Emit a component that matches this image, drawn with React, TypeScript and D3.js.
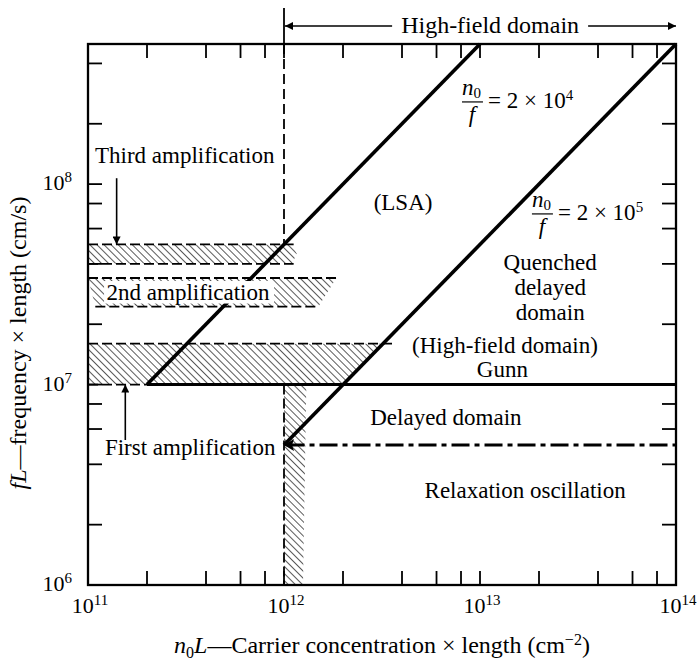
import React from 'react';
import * as d3 from 'd3';

const W = 699;
const H = 664;
const FONT = "'Liberation Serif', 'DejaVu Serif', serif";

// axes
const xDomain: [number, number] = [1e11, 1e14];
const yDomain: [number, number] = [1e6, 5e8];
const xMajorTicks = [1e11, 1e12, 1e13, 1e14];
const xMajorLabels = ['11', '12', '13', '14'];
const yMajorTicks = [1e6, 1e7, 1e8];
const yMajorLabels = ['6', '7', '8'];
const tickMultiples = [2, 4, 6, 8];

// boundary lines [n0L, fL]
const lsaLine = [[2e11, 1e7], [1e13, 5e8]]; // n0/f = 2e4
const quenchLine = [[1e12, 5e6], [1e14, 5e8]]; // n0/f = 2e5
const gunnLine = [[2e11, 1e7], [1e14, 1e7]];
const relaxLine = [[1.03e12, 5e6], [1e14, 5e6]];
const firstBottomDashed = [[1e11, 1e7], [2e11, 1e7]];
const criticalLine = [[1e12, 5e8], [1e12, 5e7]];
const stripeEdge = [[1e12, 1e7], [1e12, 1e6]];

// hatched amplification regions
const thirdBand = [[1e11, 5e7], [1.1e12, 5e7], [1.16e12, 4.5e7], [1.1e12, 4e7], [1e11, 4e7]];
const thirdTop = [[1e11, 5e7], [1.12e12, 5e7]];
const thirdBottom = [[1e11, 4e7], [1.12e12, 4e7]];
const secondBand = [[1e11, 3.4e7], [1.85e12, 3.4e7], [1.5e12, 2.45e7], [1.09e11, 2.45e7]];
const secondTop = [[1e11, 3.4e7], [1.85e12, 3.4e7]];
const secondBottom = [[1.09e11, 2.45e7], [1.5e12, 2.45e7]];
const firstBand = [[1e11, 1.6e7], [3.2e12, 1.6e7], [2e12, 1e7], [1e11, 1e7]];
const firstTop = [[1e11, 1.6e7], [3.7e12, 1.6e7]];
const stripe = [[1e12, 1e7], [1.3e12, 1e7], [1.25e12, 1e6], [1e12, 1e6]];

// region labels [text, n0L, fL]
const regionLabels: [string, number, number][] = [
  ['(LSA)', 4.05e12, 7.4e7],
  ['Quenched', 2.28e13, 3.73e7],
  ['delayed', 2.28e13, 2.8e7],
  ['domain', 2.28e13, 2.1e7],
  ['(High-field domain)', 1.34e13, 1.44e7],
  ['Gunn', 1.3e13, 1.09e7],
  ['Delayed domain', 6.7e12, 6.28e6],
  ['Relaxation oscillation', 1.7e13, 2.72e6],
];
const thirdLabel: [string, number, number] = ['Third amplification', 1.085e11, 1.28e8];
const firstLabel: [string, number, number] = ['First amplification', 1.22e11, 4.46e6];
const secondLabel: [string, number, number] = ['2nd amplification', 3.24e11, 2.64e7];
const thirdArrow = [[1.4e11, 1.07e8], [1.4e11, 5e7]];
const firstArrow = [[1.55e11, 5.29e6], [1.55e11, 1e7]];
const ratioLabels: [string, number, number][] = [
  ['4', 9.1e12, 2.57e8],
  ['5', 2.07e13, 7.1e7],
];

const T = (props: any) => <text {...props} style={{ fontFamily: FONT, ...(props.style || {}) }} />;

export default function App() {
  const left = 88, right = 676, top = 44, bottom = 585;
  const x = d3.scaleLog().domain(xDomain).range([left, right]);
  const y = d3.scaleLog().domain(yDomain).range([bottom, top]);
  const line = d3.line<number[]>().x((d) => x(d[0])).y((d) => y(d[1]));
  const poly = (pts: number[][]) => (line(pts) as string) + 'Z';

  const minor = (domain: [number, number]) => {
    const out: number[] = [];
    const k0 = Math.floor(Math.log10(domain[0]));
    const k1 = Math.ceil(Math.log10(domain[1]));
    for (let k = k0; k <= k1; k++) {
      for (const m of tickMultiples) {
        const v = m * Math.pow(10, k);
        if (v > domain[0] && v < domain[1]) out.push(v);
      }
    }
    return out;
  };
  const xTicks = [...xMajorTicks, ...minor(xDomain)];
  const yTicks = [...yMajorTicks, ...minor(yDomain)];
  const TL = 14;
  const hf = 'url(#hatch)';
  const ax = 2.3;

  const xHF0 = x(1e12);
  const xHF1 = x(1e14);
  const hfMid = x(1.1e13);

  return (
    <svg width={W} height={H} style={{ position: 'absolute', left: 0, top: 0, background: '#fff', fontFamily: FONT }}>
      <defs>
        <pattern id="hatch" patternUnits="userSpaceOnUse" width={5} height={5} patternTransform="rotate(-45)">
          <line x1={0} y1={0} x2={0} y2={5} stroke="#000" strokeWidth={1.3} />
        </pattern>
        <marker id="ah" viewBox="0 0 10 10" refX={10} refY={5} markerWidth={12} markerHeight={8} markerUnits="userSpaceOnUse" orient="auto">
          <path d="M0,0 L10,5 L0,10 Z" fill="#000" />
        </marker>
      </defs>
      <rect x={0} y={0} width={W} height={H} fill="#fff" />

      {/* hatched regions */}
      <path d={poly(thirdBand)} fill={hf} />
      <path d={poly(secondBand)} fill={hf} />
      <path d={poly(firstBand)} fill={hf} />
      <path d={poly(stripe)} fill={hf} />

      {/* dashed band edges */}
      {[thirdTop, thirdBottom, secondTop, secondBottom, firstTop, firstBottomDashed].map((p, i) => (
        <path key={i} d={line(p) as string} stroke="#000" strokeWidth={1.8} strokeDasharray="10,4" fill="none" />
      ))}
      <path d={line(stripeEdge) as string} stroke="#000" strokeWidth={1.8} strokeDasharray="10,4" fill="none" />

      {/* critical n0L = 1e12 line */}
      <line x1={x(1e12)} x2={x(1e12)} y1={8} y2={top} stroke="#000" strokeWidth={1.8} />
      <path d={line(criticalLine) as string} stroke="#000" strokeWidth={1.8} strokeDasharray="10,5" fill="none" />

      {/* boundaries */}
      <path d={line(lsaLine) as string} stroke="#000" strokeWidth={3.6} fill="none" />
      <path d={line(quenchLine) as string} stroke="#000" strokeWidth={3.6} fill="none" />
      <path d={line(gunnLine) as string} stroke="#000" strokeWidth={3} fill="none" />
      <path d={line(relaxLine) as string} stroke="#000" strokeWidth={3} strokeDasharray="18,5,5,5" fill="none" />
      <path d={`M${x(1e12)},${y(5e6)} l10,-6 l-2,6 l2,6 Z`} fill="#000" />

      {/* 2nd amplification label box */}
      <rect x={x(secondLabel[1]) - 84} y={y(3.4e7) + 3} width={170} height={y(2.45e7) - y(3.4e7) - 6} fill="#fff" />
      <T x={x(secondLabel[1])} y={y(secondLabel[2])} fontSize={23} textAnchor="middle">{secondLabel[0]}</T>

      {/* axes frame */}
      <rect x={left} y={top} width={right - left} height={bottom - top} fill="none" stroke="#000" strokeWidth={ax} />
      {xTicks.map((v, i) => (
        <g key={'xt' + i}>
          <line x1={x(v)} x2={x(v)} y1={bottom} y2={bottom - TL} stroke="#000" strokeWidth={1.8} />
          <line x1={x(v)} x2={x(v)} y1={top} y2={top + TL} stroke="#000" strokeWidth={1.8} />
        </g>
      ))}
      {yTicks.map((v, i) => (
        <g key={'yt' + i}>
          <line x1={left} x2={left + TL} y1={y(v)} y2={y(v)} stroke="#000" strokeWidth={1.8} />
          <line x1={right} x2={right - TL} y1={y(v)} y2={y(v)} stroke="#000" strokeWidth={1.8} />
        </g>
      ))}

      {/* tick labels */}
      {xMajorTicks.map((v, i) => (
        <T key={'xl' + i} x={x(v) + 2} y={613} fontSize={22} textAnchor="middle">
          10<tspan dy={-8} fontSize={15}>{xMajorLabels[i]}</tspan>
        </T>
      ))}
      {yMajorTicks.map((v, i) => (
        <T key={'yl' + i} x={72} y={y(v) + 6} fontSize={22} textAnchor="end">
          10<tspan dy={-8} fontSize={15}>{yMajorLabels[i]}</tspan>
        </T>
      ))}

      {/* axis titles */}
      <T x={382} y={653} fontSize={24} textAnchor="middle">
        <tspan fontStyle="italic">n</tspan>
        <tspan dy={5} fontSize={16}>0</tspan>
        <tspan dy={-5} fontStyle="italic">L</tspan>
        <tspan>{'\u2014Carrier concentration \u00d7  length (cm'}</tspan>
        <tspan dy={-8} fontSize={16}>{'\u22122'}</tspan>
        <tspan dy={8}>)</tspan>
      </T>
      <T transform="translate(26,343) rotate(-90)" fontSize={24} textAnchor="middle">
        <tspan fontStyle="italic">fL</tspan>
        <tspan>{'\u2014frequency \u00d7  length (cm/s)'}</tspan>
      </T>

      {/* High-field domain arrow */}
      <line x1={hfMid - 96} x2={xHF0 + 1} y1={26} y2={26} stroke="#000" strokeWidth={1.6} markerEnd="url(#ah)" />
      <line x1={hfMid + 100} x2={xHF1} y1={26} y2={26} stroke="#000" strokeWidth={1.6} markerEnd="url(#ah)" />
      <T x={hfMid + 2} y={33} fontSize={24} textAnchor="middle">High-field domain</T>

      {/* region labels */}
      {regionLabels.map(([t, vx, vy], i) => (
        <T key={'rl' + i} x={x(vx)} y={y(vy)} fontSize={23} textAnchor="middle">{t}</T>
      ))}

      {/* amplification labels and arrows */}
      <T x={x(thirdLabel[1])} y={y(thirdLabel[2])} fontSize={23}>{thirdLabel[0]}</T>
      <T x={x(firstLabel[1])} y={y(firstLabel[2])} fontSize={23}>{firstLabel[0]}</T>
      <path d={line(thirdArrow) as string} stroke="#000" strokeWidth={1.6} markerEnd="url(#ah)" fill="none" />
      <path d={line(firstArrow) as string} stroke="#000" strokeWidth={1.6} markerEnd="url(#ah)" fill="none" />

      {/* n0/f ratio labels */}
      {ratioLabels.map(([exp, vx, vy], i) => {
        const cx = x(vx);
        const cy = y(vy);
        return (
          <g key={'rt' + i}>
            <T x={cx - 10} y={cy - 7} fontSize={23}>
              <tspan fontStyle="italic">n</tspan>
              <tspan dy={3} fontSize={15}>0</tspan>
            </T>
            <line x1={cx - 10} x2={cx + 11} y1={cy} y2={cy} stroke="#000" strokeWidth={1.2} />
            <T x={cx} y={cy + 20} fontSize={23} fontStyle="italic" textAnchor="middle">f</T>
            <T x={cx + 16} y={cy + 6} fontSize={23}>
              {'= 2 \u00d7  10'}
              <tspan dy={-8} fontSize={15}>{exp}</tspan>
            </T>
          </g>
        );
      })}
    </svg>
  );
}
